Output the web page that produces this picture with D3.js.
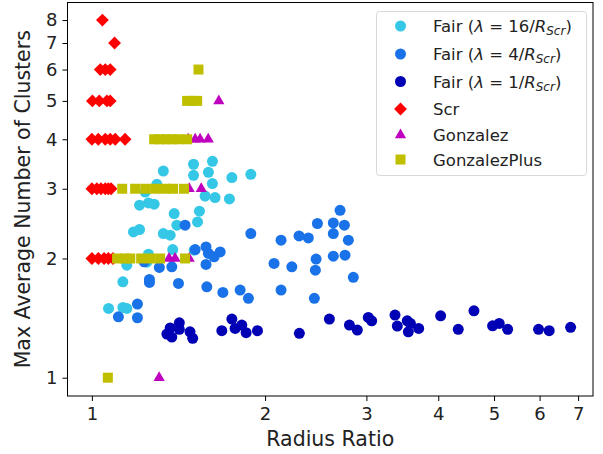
<!DOCTYPE html>
<html>
<head>
<meta charset="utf-8">
<script src="https://cdn.jsdelivr.net/npm/d3@7"></script>
<style>
  body { margin: 0; background: #fff; }
  text { font-family: "DejaVu Sans", sans-serif; }
</style>
</head>
<body>
<div id="chart"></div>
<script>
const width = 603;
const height = 454;

// x = radius ratio, y = max average number of clusters
const fair16X = [1.331, 1.502, 1.620, 1.502, 1.594, 1.751, 1.889, 1.620, 1.573, 1.637, 1.734, 1.297, 1.238, 1.210, 1.254, 1.283, 1.390, 1.538, 1.526, 1.405, 1.331, 1.368, 1.382, 1.506, 1.181, 1.210, 1.150, 1.254, 1.132, 1.069, 1.132, 1.150, 1.246];
const fair16Y = [3.326, 3.459, 3.519, 3.244, 3.301, 3.201, 3.263, 3.092, 2.876, 2.850, 2.827, 3.079, 2.944, 2.726, 2.763, 2.742, 2.597, 2.633, 2.474, 2.427, 2.312, 2.290, 2.107, 2.099, 2.334, 2.367, 1.924, 2.051, 1.746, 1.496, 1.505, 1.496, 1.957];

const fair4X = [2.700, 2.466, 2.628, 2.747, 1.889, 2.132, 2.291, 2.378, 2.628, 2.791, 2.073, 2.226, 2.453, 2.446, 2.628, 2.754, 2.847, 1.810, 1.871, 2.132, 2.436, 1.452, 1.512, 1.579, 1.594, 1.631, 1.671, 1.579, 1.310, 1.377, 1.414, 1.584, 1.689, 1.259, 1.259, 1.200, 1.112, 1.200, 1.233];
const fair4Y = [2.647, 2.451, 2.460, 2.427, 2.312, 2.225, 2.280, 2.254, 2.312, 2.225, 1.943, 1.905, 1.993, 1.869, 2.027, 2.039, 1.792, 1.664, 1.586, 1.664, 1.586, 2.427, 2.107, 2.139, 2.059, 2.019, 2.078, 1.932, 1.898, 1.905, 1.730, 1.696, 1.642, 1.770, 1.740, 1.534, 1.425, 1.417, 1.961];

const fair1X = [1.368, 1.419, 1.350, 1.377, 1.419, 1.481, 1.497, 1.682, 1.751, 1.774, 1.822, 1.854, 1.940, 2.294, 2.587, 2.803, 2.893, 3.023, 3.064, 3.364, 3.395, 3.533, 3.578, 3.548, 3.698, 4.038, 4.333, 4.614, 4.971, 5.105, 5.280, 5.975, 6.235, 6.793];
const fair1Y = [1.335, 1.376, 1.289, 1.266, 1.325, 1.306, 1.257, 1.314, 1.406, 1.332, 1.358, 1.299, 1.314, 1.294, 1.406, 1.358, 1.319, 1.420, 1.392, 1.439, 1.350, 1.392, 1.371, 1.306, 1.332, 1.433, 1.325, 1.475, 1.352, 1.371, 1.325, 1.325, 1.314, 1.340];

const scrX = [1.043, 1.095, 1.034, 1.055, 1.076, 1.002, 1.030, 1.062, 1.076, 1.000, 1.026, 1.055, 1.076, 1.098, 1.142, 1.000, 1.020, 1.037, 1.055, 1.068, 1.080, 1.000, 1.026, 1.050, 1.068, 1.088];
const scrY = [8, 7, 6, 6, 6, 5, 5, 5, 5, 4, 4, 4, 4, 4, 4, 3, 3, 3, 3, 3, 3, 2, 2, 2, 2, 2];

const gonzX = [1.662, 1.470, 1.512, 1.542, 1.593, 1.476, 1.549, 1.362, 1.395, 1.476, 1.309];
const gonzY = [5, 4, 4, 4, 4, 3, 3, 2, 2, 2, 1];

const plusX = [1.532, 1.464, 1.494, 1.524, 1.283, 1.314, 1.346, 1.379, 1.413, 1.464, 1.129, 1.189, 1.238, 1.288, 1.340, 1.384, 1.446, 1.106, 1.142, 1.166, 1.218, 1.263, 1.314, 1.452, 1.066];
const plusY = [6, 5, 5, 5, 4, 4, 4, 4, 4, 4, 3, 3, 3, 3, 3, 3, 3, 2, 2, 2, 2, 2, 2, 2, 1];

const xTicks = [1, 2, 3, 4, 5, 6, 7];
const yTicks = [1, 2, 3, 4, 5, 6, 7, 8];

const zip = (xs, ys) => xs.map((x, i) => [x, ys[i]]);

const series = [
  { name: "fair16", data: zip(fair16X, fair16Y), color: "#35c8e6", shape: "circle" },
  { name: "fair4", data: zip(fair4X, fair4Y), color: "#1a72e8", shape: "circle" },
  { name: "fair1", data: zip(fair1X, fair1Y), color: "#0000b4", shape: "circle" },
  { name: "scr", data: zip(scrX, scrY), color: "#ff0000", shape: "diamond" },
  { name: "gonz", data: zip(gonzX, gonzY), color: "#bf00bf", shape: "triangle" },
  { name: "plus", data: zip(plusX, plusY), color: "#bfbf00", shape: "square" },
];

const mLeft = 67.5, mRight = 593, mTop = 2.5, mBottom = 396;

const x = d3.scaleLog().domain([0.907, 7.43]).range([mLeft, mRight]);
const y = d3.scaleLog().domain([0.899, 8.86]).range([mBottom, mTop]);

const svg = d3.select("#chart").append("svg")
  .attr("width", width)
  .attr("height", height);

// matplotlib-style "D": a square turned 45 degrees
const squareDiamond = {
  draw(ctx, size) {
    const r = Math.sqrt(size / 2);
    ctx.moveTo(0, -r);
    ctx.lineTo(r, 0);
    ctx.lineTo(0, r);
    ctx.lineTo(-r, 0);
    ctx.closePath();
  },
};

const symbols = {
  circle: d3.symbol().type(d3.symbolCircle).size(95),
  diamond: d3.symbol().type(squareDiamond).size(82),
  triangle: d3.symbol().type(d3.symbolTriangle).size(55),
  square: d3.symbol().type(d3.symbolSquare).size(100),
};

const plot = svg.append("g");
series.forEach((s) => {
  plot.append("g")
    .selectAll("path")
    .data(s.data)
    .join("path")
    .attr("transform", (d) => `translate(${x(d[0])},${y(d[1])})`)
    .attr("d", symbols[s.shape])
    .attr("fill", s.color);
});

// axes
const xAxis = svg.append("g")
  .attr("transform", `translate(0,${mBottom})`)
  .call(d3.axisBottom(x).tickValues(xTicks).tickFormat(d3.format("d")).tickSize(5).tickPadding(6));
const yAxis = svg.append("g")
  .attr("transform", `translate(${mLeft},0)`)
  .call(d3.axisLeft(y).tickValues(yTicks).tickFormat(d3.format("d")).tickSize(5).tickPadding(5));

[xAxis, yAxis].forEach((a) => {
  a.select(".domain").remove();
  a.selectAll("line").attr("stroke", "#000").attr("stroke-width", 1);
  a.selectAll("text").attr("font-size", 18).attr("fill", "#222")
    .style("font-family", "DejaVu Sans");
});

svg.append("rect")
  .attr("x", mLeft).attr("y", mTop)
  .attr("width", mRight - mLeft).attr("height", mBottom - mTop)
  .attr("fill", "none").attr("stroke", "#000").attr("stroke-width", 1);

svg.append("text")
  .attr("x", (mLeft + mRight) / 2).attr("y", 446)
  .attr("text-anchor", "middle").attr("font-size", 20.5).attr("fill", "#222")
  .text("Radius Ratio");

svg.append("text")
  .attr("transform", `translate(30,${(mTop + mBottom) / 2}) rotate(-90)`)
  .attr("text-anchor", "middle").attr("font-size", 20.5).attr("fill", "#222")
  .text("Max Average Number of Clusters");

// legend
const legend = svg.append("g");
legend.append("rect")
  .attr("x", 376.5).attr("y", 11.5).attr("width", 210).attr("height", 164)
  .attr("rx", 3)
  .attr("fill", "#fff").attr("fill-opacity", 0.8)
  .attr("stroke", "#d8d8d8");

const legendRows = [26, 54, 81.5, 109, 135, 159.5];
const lambdas = ["16", "4", "1"];
series.forEach((s, i) => {
  const row = legend.append("g").attr("transform", `translate(0,${legendRows[i]})`);
  row.append("path")
    .attr("transform", "translate(400.5,0)")
    .attr("d", symbols[s.shape])
    .attr("fill", s.color);
  const t = row.append("text")
    .attr("x", 433).attr("y", 6)
    .attr("font-size", 16.5).attr("fill", "#222");
  if (i < 3) {
    t.append("tspan").text("Fair (");
    t.append("tspan").attr("font-style", "italic").text("λ");
    t.append("tspan").text(" = " + lambdas[i] + "/");
    t.append("tspan").attr("font-style", "italic").text("R");
    t.append("tspan").attr("font-style", "italic").attr("font-size", 12)
      .attr("dy", 3).text("Scr");
    t.append("tspan").attr("dy", -3).text(")");
  } else {
    t.text(["Scr", "Gonzalez", "GonzalezPlus"][i - 3]);
  }
});
</script>
</body>
</html>
